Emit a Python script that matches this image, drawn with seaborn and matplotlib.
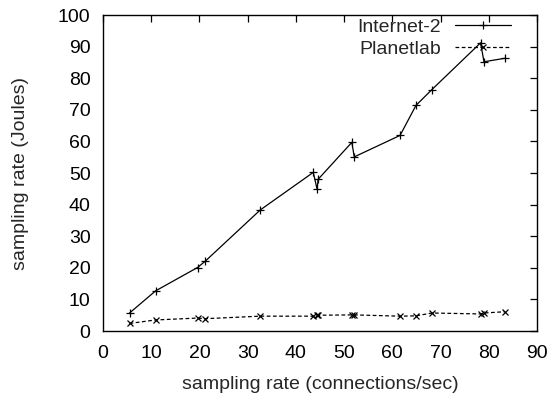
import pandas as pd
import numpy as np
import matplotlib
matplotlib.use("Agg")
import matplotlib.pyplot as plt
import seaborn as sns

# Valores
rate = [5.5, 10.9, 19.6, 21.2, 32.6, 43.6, 44.4, 44.6, 51.6, 52.1,
        61.6, 64.9, 68.2, 78.3, 79.0, 83.3]
internet2 = [5.7, 12.7, 20.1, 22.1, 38.3, 50.2, 44.8, 48.0, 59.7, 55.1,
             61.9, 71.4, 76.4, 91.2, 85.2, 86.3]
planetlab = [2.4, 3.5, 4.1, 3.9, 4.7, 4.7, 5.1, 5.0, 5.1, 5.1,
             4.7, 4.8, 5.7, 5.4, 5.7, 6.1]
xticks = list(range(0, 91, 10))
yticks = list(range(0, 101, 10))

sns.set_style("white")
plt.rcParams['font.family'] = ['Liberation Sans', 'DejaVu Sans']
plt.rcParams['font.size'] = 14

fig = plt.figure(figsize=(5.53, 3.97), dpi=100)
ax = fig.add_axes([0.1863, 0.1662, 0.9711 - 0.1863, 0.9622 - 0.1662])

sns.lineplot(x=rate, y=internet2, ax=ax, sort=False, estimator=None,
             color='black', lw=0.9, marker='+', markersize=5.5, mew=0.9,
             mec='black', label='Internet-2')
sns.lineplot(x=rate, y=planetlab, ax=ax, sort=False, estimator=None,
             color='black', lw=0.9, ls=(0, (3, 2)), marker='x', markersize=4.2,
             mew=0.9, mec='black', label='Planetlab')

ax.set_xlim(0, 90)
ax.set_ylim(0, 100)
ax.set_xticks(xticks)
ax.set_yticks(yticks)
ax.tick_params(direction='in', length=5, width=0.9, top=True, right=True,
               labelsize=14, colors='black')
ax.tick_params(axis='x', pad=10)
ax.tick_params(axis='y', pad=9)
for s in ax.spines.values():
    s.set_color('black')
    s.set_linewidth(1.0)

ax.set_xlabel('sampling rate (connections/sec)', fontsize=14, labelpad=10)
ax.set_ylabel('sampling rate (Joules)', fontsize=14, labelpad=21)

ax.legend(loc='upper right', bbox_to_anchor=(0.947, 1.0), frameon=False,
          markerfirst=False, handlelength=2.9, borderaxespad=0, borderpad=0.15,
          labelspacing=0.25, handletextpad=0.7, fontsize=14)

fig.savefig('out.png', dpi=100)
